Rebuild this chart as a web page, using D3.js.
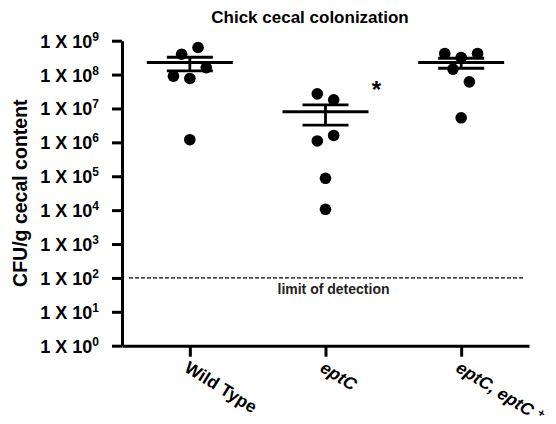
<!DOCTYPE html>
<html>
<head>
<meta charset="utf-8">
<script src="https://cdnjs.cloudflare.com/ajax/libs/d3/7.8.5/d3.min.js"></script>
<style>
  body { margin: 0; background: #fff; }
  text { font-family: "Liberation Sans", Arial, sans-serif; font-weight: bold; fill: #000; }
</style>
</head>
<body>
<div id="chart"></div>
<script>
// groups on the x axis
var groups = ['Wild Type', 'eptC', 'eptC, eptC +'];

// CFU per gram cecal content, one value per chick
var wildType     = [6.3e8, 4.0e8, 1.6e8, 9.0e7, 7.7e7, 1.2e6];
var eptC         = [2.7e7, 1.8e7, 1.6e6, 1.1e6, 8.7e4, 1.06e4];
var complemented = [4.2e8, 3.2e8, 4.2e8, 1.45e8, 6.1e7, 5.3e6];

// y ticks (powers of ten) and limit of detection
var yTicks = [1, 1e1, 1e2, 1e3, 1e4, 1e5, 1e6, 1e7, 1e8, 1e9];
var yTickExponents = ['0', '1', '2', '3', '4', '5', '6', '7', '8', '9'];
var limitOfDetection = 1e2;

// column scatter layout: dot column within the group (avoid overlaps)
var wildTypeCols     = [1, -1, 2, -2, 0, 0];
var eptCCols         = [-1, 1, 1, -1, 0, 0];
var complementedCols = [-2, 0, 2, -1, 1, 0];

var series = [
  { name: groups[0], values: wildType, cols: wildTypeCols },
  { name: groups[1], values: eptC, cols: eptCCols },
  { name: groups[2], values: complemented, cols: complementedCols }
];

var width = 556, height = 424;
var plotLeft = 122, plotRight = 529, plotTop = 40.7, plotBottom = 345.7;

var svg = d3.select('#chart').append('svg')
  .attr('width', width)
  .attr('height', height);

var defs = svg.append('defs');
defs.append('filter').attr('id', 'blur')
  .append('feGaussianBlur').attr('stdDeviation', 1.2);

var x = d3.scalePoint().domain(groups).range([plotLeft, plotRight]).padding(0.5);
var y = d3.scaleLog().domain([1, 1e9]).range([plotBottom, plotTop]);

// title
svg.append('text')
  .attr('x', 310).attr('y', 23)
  .attr('text-anchor', 'middle')
  .style('font-size', '17px')
  .text('Chick cecal colonization');

// y axis
var yAxis = svg.append('g')
  .attr('transform', 'translate(' + plotLeft + ',0)')
  .call(d3.axisLeft(y).tickValues(yTicks).tickFormat('').tickSize(10).tickSizeOuter(0));
yAxis.select('.domain').attr('stroke-width', 3);
yAxis.selectAll('.tick line').attr('stroke-width', 3);

yAxis.selectAll('.tick').each(function(d, i) {
  var t = d3.select(this).append('text')
    .attr('x', -23).attr('y', 6.5)
    .attr('text-anchor', 'end')
    .style('font-size', '18px');
  t.append('tspan').text('1 X 10');
  t.append('tspan').attr('dy', -7).style('font-size', '12px').text(yTickExponents[i]);
});

// x axis
var xAxis = svg.append('g')
  .attr('transform', 'translate(0,' + plotBottom + ')')
  .call(d3.axisBottom(x).tickFormat('').tickSize(11).tickSizeOuter(0));
xAxis.select('.domain').attr('stroke-width', 3);
xAxis.selectAll('.tick line').attr('stroke-width', 3);

xAxis.selectAll('.tick').each(function(d) {
  var t = d3.select(this).append('text')
    .attr('text-anchor', 'start')
    .attr('transform', 'translate(-7,25) rotate(32)')
    .style('font-size', '17.5px');
  if (d === 'Wild Type') {
    t.text(d);
  } else if (d === 'eptC') {
    t.style('font-style', 'italic').text(d);
  } else {
    t.style('font-style', 'italic').text('eptC, eptC ');
    t.append('tspan').attr('dy', -6).style('font-size', '12px').text('+');
  }
});

// y axis title
svg.append('text')
  .attr('transform', 'translate(27,' + ((plotTop + plotBottom) / 2) + ') rotate(-90)')
  .attr('text-anchor', 'middle')
  .style('font-size', '19.5px')
  .text('CFU/g cecal content');

// limit of detection
svg.append('line')
  .attr('x1', plotLeft + 7).attr('x2', plotRight - 4)
  .attr('y1', y(limitOfDetection) + 2.5).attr('y2', y(limitOfDetection) + 2.5)
  .attr('stroke', '#bbb').attr('stroke-width', 3)
  .attr('filter', 'url(#blur)');
svg.append('line')
  .attr('x1', plotLeft + 7).attr('x2', plotRight - 4)
  .attr('y1', y(limitOfDetection)).attr('y2', y(limitOfDetection))
  .attr('stroke', '#000').attr('stroke-width', 1.3)
  .attr('stroke-dasharray', '4,2');
svg.append('text')
  .attr('x', (plotLeft + plotRight) / 2 + 8).attr('y', y(limitOfDetection) + 16)
  .attr('text-anchor', 'middle')
  .style('font-size', '14px')
  .style('fill', '#222')
  .text('limit of detection');

// mean +/- SEM and dots
var dotStep = 8.2;
var g = svg.append('g');

series.forEach(function(s) {
  var cx = x(s.name);
  var m = d3.mean(s.values);
  var sem = d3.deviation(s.values) / Math.sqrt(s.values.length);

  g.append('line')
    .attr('x1', cx).attr('x2', cx)
    .attr('y1', y(m + sem)).attr('y2', y(m - sem))
    .attr('stroke', '#000').attr('stroke-width', 2.8);
  [m + sem, m - sem].forEach(function(v) {
    g.append('line')
      .attr('x1', cx - 23).attr('x2', cx + 23)
      .attr('y1', y(v)).attr('y2', y(v))
      .attr('stroke', '#000').attr('stroke-width', 2.8);
  });
  g.append('line')
    .attr('x1', cx - 43).attr('x2', cx + 43)
    .attr('y1', y(m)).attr('y2', y(m))
    .attr('stroke', '#000').attr('stroke-width', 3);

  g.selectAll(null)
    .data(s.values)
    .enter()
    .append('circle')
    .attr('cx', function(d, i) { return cx + s.cols[i] * dotStep; })
    .attr('cy', function(d) { return y(d); })
    .attr('r', 5.8)
    .attr('fill', '#000');
});

// significance marker
svg.append('text')
  .attr('x', x('eptC') + 51).attr('y', 98)
  .attr('text-anchor', 'middle')
  .style('font-size', '24px')
  .text('*');
</script>
</body>
</html>
